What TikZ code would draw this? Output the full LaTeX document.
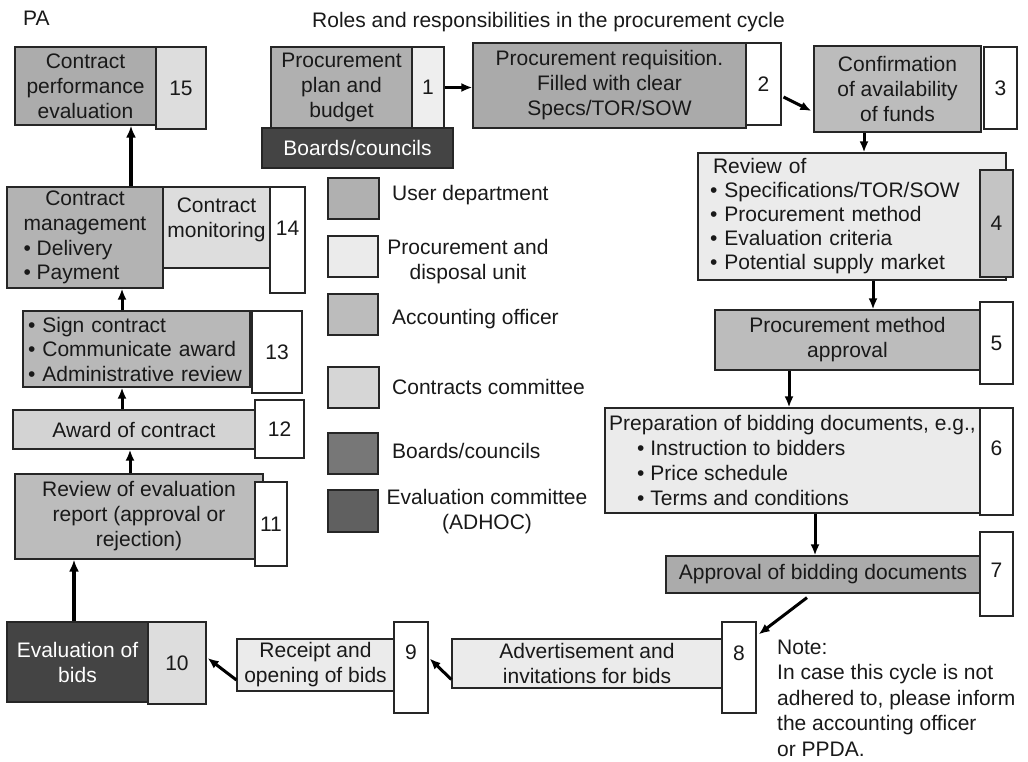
\documentclass[tikz,border=0pt]{standalone}
\usepackage{fontspec}
\setmainfont{Liberation Sans}
\usetikzlibrary{arrows.meta,calc}
\newcommand\myup[2]{\raisebox{#1}[\height][\depth]{#2}}
\definecolor{cuser}{HTML}{B0B0B0}
\definecolor{cpd}{HTML}{EBEBEB}
\definecolor{cpdone}{HTML}{EEEEEE}
\definecolor{cao}{HTML}{BCBCBC}
\definecolor{ccc}{HTML}{D6D6D6}
\definecolor{cbc}{HTML}{777777}
\definecolor{cev}{HTML}{606060}
\definecolor{cdark}{HTML}{444444}
\definecolor{ctwo}{HTML}{AAAAAA}
\definecolor{cfifteen}{HTML}{ACACAC}
\definecolor{cseven}{HTML}{ABABAB}
\definecolor{celeven}{HTML}{BCBCBC}
\definecolor{cthirteen}{HTML}{B8B8B8}
\definecolor{cfourteen}{HTML}{B3B3B3}
\definecolor{ctwelve}{HTML}{D3D3D3}
\definecolor{cside}{HTML}{C4C4C4}
\definecolor{cnumlight}{HTML}{DDDDDD}
\begin{document}
\begin{tikzpicture}[x=1pt,y=-1pt,
  every node/.style={font=\fontsize{21}{25}\selectfont, text=black!90},
  box/.style={draw=black!85, line width=1.2pt, inner sep=0pt, align=center},
  arr/.style={line width=3pt, -{Latex[length=11pt,width=9pt]}},
  arrb/.style={line width=4pt, -{Latex[length=12pt,width=10pt]}},
  lbl/.style={inner sep=0pt, anchor=base west},
]
\useasboundingbox (0,0) rectangle (1028,761);

% header
\node[lbl] (pa) at (23,25.5) {PA};
\node[lbl] (title) at (312,27) {Roles and responsibilities in the procurement cycle};

% step 15
\node[box, fill=cnumlight, minimum width=50pt, minimum height=82pt] (n15) at (181,88) {15};
\node[box, fill=cfifteen, minimum width=141pt, minimum height=78pt] (b15) at (85.5,86) {Contract\\performance\\evaluation};

% step 1
\node[box, fill=cuser, minimum width=141pt, minimum height=81pt] (b1) at (341.5,87.5) {Procurement\\plan and\\budget};
\node[box, fill=cpdone, minimum width=32pt, minimum height=81pt] (n1) at (428,87.5) {1};
\node[box, fill=cdark, text=white, minimum width=191pt, minimum height=40pt] (bc) at (357.5,148) {Boards/councils};

% step 2
\node[box, fill=ctwo, minimum width=273pt, minimum height=85pt] (b2) at (609.5,85.5) {Procurement requisition.\\Filled with clear\\Specs/TOR/SOW};
\node[box, fill=white, minimum width=35pt, minimum height=82pt] (n2) at (763.5,84) {2};

% step 3
\node[box, fill=cao, minimum width=167pt, minimum height=86pt] (b3) at (897.5,89) {Confirmation\\of availability\\of funds};
\node[box, fill=white, minimum width=33pt, minimum height=82pt] (n3) at (1000.5,88) {3};

% step 4
\node[box, fill=cpd, minimum width=308pt, minimum height=127pt, text width=284pt, align=left, font=\fontsize{21}{24}\selectfont] (b4) at (852,216.5) {\hspace*{3pt}Review of\\• Specifications/TOR/SOW\\• Procurement method\\• Evaluation criteria\\• Potential supply market};
\node[box, fill=cside, minimum width=33pt, minimum height=107pt] (n4) at (996.5,223.5) {4};

% step 5
\node[box, fill=cao, minimum width=265pt, minimum height=60pt] (b5) at (847.5,340) {Procurement method\\approval};
\node[box, fill=white, minimum width=33pt, minimum height=82pt] (n5) at (996.5,343) {5};

% step 6
\node[box, fill=cpd, minimum width=375pt, minimum height=105pt, align=left] (b6) at (792.5,460.5) {Preparation of bidding documents, e.g.,\\\hspace*{28pt}• Instruction to bidders\\\hspace*{28pt}• Price schedule\\\hspace*{28pt}• Terms and conditions};
\node[box, fill=white, minimum width=33pt, minimum height=107pt] (n6) at (996.5,461.5) {\myup{13pt}{6}};

% step 7
\node[box, fill=cseven, minimum width=314pt, minimum height=37pt] (b7) at (823,574.5) {Approval of bidding documents};
\node[box, fill=white, minimum width=33pt, minimum height=84pt] (n7) at (996.5,574) {\myup{4pt}{7}};

% step 8
\node[box, fill=cpd, minimum width=270pt, minimum height=49pt] (b8) at (587,663.5) {Advertisement and\\invitations for bids};
\node[box, fill=white, minimum width=34pt, minimum height=91pt] (n8) at (739,667.5) {\myup{14pt}{8}};

% step 9
\node[box, fill=cpd, minimum width=157pt, minimum height=52pt] (b9) at (315.5,665) {Receipt and\\opening of bids};
\node[box, fill=white, minimum width=34pt, minimum height=91pt] (n9) at (411,667.5) {\myup{15pt}{9}};

% step 10
\node[box, fill=cdark, text=white, minimum width=141pt, minimum height=80pt] (b10) at (77.5,662) {Evaluation of\\bids};
\node[box, fill=cnumlight, minimum width=58pt, minimum height=82pt] (n10) at (177,663) {10};

% step 11
\node[box, fill=celeven, minimum width=248pt, minimum height=85pt] (b11) at (139,516.5) {Review of evaluation\\report (approval or\\rejection)};
\node[box, fill=white, minimum width=32pt, minimum height=84pt] (n11) at (271,524) {11};

% step 12
\node[box, fill=ctwelve, minimum width=242pt, minimum height=39pt] (b12) at (134,429.5) {Award of contract};
\node[box, fill=white, minimum width=49pt, minimum height=58pt] (n12) at (279.5,429) {12};

% step 13
\node[box, fill=cthirteen, minimum width=227pt, minimum height=76pt, text width=217pt, align=left, font=\fontsize{21}{24.5}\selectfont] (b13) at (136.5,349) {• Sign contract\\• Communicate award\\• Administrative review};
\node[box, fill=white, minimum width=50pt, minimum height=82pt] (n13) at (277,352) {13};

% step 14
\node[box, fill=cfourteen, minimum width=156pt, minimum height=101pt, font=\fontsize{21}{24.7}\selectfont] (b14) at (85,237.5) {Contract\\management\\\makebox[123pt][l]{• Delivery}\\\makebox[123pt][l]{• Payment}};
\node[box, fill=cnumlight, minimum width=107pt, minimum height=81pt] (mon) at (216.5,227.5) {\myup{8pt}{\begin{tabular}{@{}c@{}}Contract\\monitoring\end{tabular}}};
\node[box, fill=white, minimum width=35pt, minimum height=106pt] (n14) at (287.5,240) {\myup{12pt}{14}};

% legend
\node[box, fill=cuser, minimum width=51pt, minimum height=41pt] (l1) at (353.5,198.5) {};
\node[lbl] (t1) at (392,200) {User department};
\node[box, fill=cpd, minimum width=50pt, minimum height=41pt] (l2) at (353,256.5) {};
\node[align=center, inner sep=0pt] (t2) at (468,262) {Procurement and\\disposal unit};
\node[box, fill=cao, minimum width=50pt, minimum height=41pt] (l3) at (353,314.5) {};
\node[lbl] (t3) at (392,324) {Accounting officer};
\node[box, fill=ccc, minimum width=51pt, minimum height=41pt] (l4) at (353.5,387.5) {};
\node[lbl] (t4) at (392,394) {Contracts committee};
\node[box, fill=cbc, minimum width=50pt, minimum height=41pt] (l5) at (353,453.5) {};
\node[lbl] (t5) at (392,458) {Boards/councils};
\node[box, fill=cev, minimum width=50pt, minimum height=42pt] (l6) at (353,511) {};
\node[align=center, inner sep=0pt] (t6) at (487,512) {Evaluation committee\\(ADHOC)};

% note
\node[align=left, anchor=west, inner sep=0pt, font=\fontsize{21}{25.5}\selectfont] (note) at (777,698) {Note:\\In case this cycle is not\\adhered to, please inform\\the accounting officer\\or PPDA.};

% arrows
\draw[arr] (n1.east) -- (n1.east -| b2.west);
\draw[arr] ($(n2.east)+(2,13)$) -- ($(b3.west)+(-2,22)$);
\draw[arr] ($(b3.south)+(-33.5,0)$) -- ($(b3.south |- b4.north)+(-33.5,0)$);
\draw[arr] ($(b4.south)+(21,0)$) -- ($(b4.south |- b5.north)+(21,0)$);
\draw[arr] ($(b5.south)+(-58.5,0)$) -- ($(b5.south |- b6.north)+(-58.5,0)$);
\draw[arr] ($(b6.south)+(22.5,0)$) -- ($(b6.south |- b7.north)+(22.5,0)$);
\draw[arr] ($(b7.south)+(-16,4)$) -- ($(n8.north east)+(2,13)$);
\draw[arr] ($(b8.west)+(0,16)$) -- ($(n9.east)+(1,-9)$);
\draw[arr] ($(b9.west)+(0,15)$) -- ($(n10.east)+(1,-5)$);
\draw[arrb] ($(b10.north)+(-3.5,0)$) -- ($(b10.north |- b11.south)+(-3.5,0)$);
\draw[arr] ($(b11.north)+(-9,0)$) -- ($(b11.north |- b12.south)+(-9,0)$);
\draw[arr] ($(b12.north)+(-12,0)$) -- ($(b12.north |- b13.south)+(-12,0)$);
\draw[arr] ($(b13.north)+(-14.5,0)$) -- ($(b13.north |- b14.south)+(-14.5,0)$);
\draw[arrb] ($(b14.north)+(46,0)$) -- ($(b14.north |- b15.south)+(46,0)$);
\end{tikzpicture}
\end{document}
